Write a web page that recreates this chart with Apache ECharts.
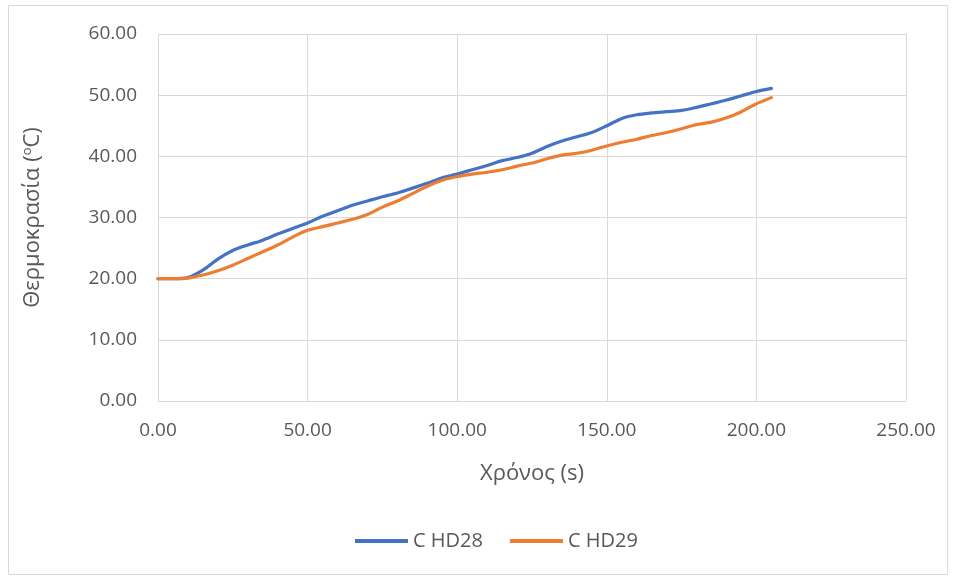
<!DOCTYPE html>
<html>
<head>
<meta charset="utf-8">
<script src="https://cdn.jsdelivr.net/npm/echarts@6/dist/echarts.min.js"></script>
<style>
  html, body { margin: 0; padding: 0; background: #fff; }
  #chart { width: 956px; height: 578px; }
</style>
</head>
<body>
<div id="chart"></div>
<script>
// Time samples (s)
const times = [0, 5, 10, 15, 20, 25, 30, 35, 40, 45, 50, 55, 60, 65, 70, 75, 80, 85, 90, 95, 100,
  105, 110, 115, 120, 125, 130, 135, 140, 145, 150, 155, 160, 165, 170, 175, 180, 185, 190, 195, 200, 205];

// Temperature readings (°C)
const hd28 = [20.0, 20.0, 20.2, 21.4, 23.2, 24.6, 25.5, 26.3, 27.3, 28.2, 29.1, 30.2, 31.1, 32.0, 32.7, 33.4,
  34.0, 34.8, 35.6, 36.5, 37.1, 37.8, 38.5, 39.3, 39.8, 40.5, 41.6, 42.5, 43.2, 43.9, 45.0, 46.2, 46.8,
  47.1, 47.3, 47.5, 48.0, 48.6, 49.2, 49.9, 50.6, 51.1];
const hd29 = [20.0, 20.0, 20.1, 20.6, 21.3, 22.2, 23.3, 24.4, 25.5, 26.8, 27.9, 28.5, 29.1, 29.7, 30.5, 31.7,
  32.7, 33.9, 35.1, 36.1, 36.7, 37.1, 37.4, 37.8, 38.4, 38.9, 39.6, 40.2, 40.5, 41.0, 41.7, 42.3, 42.8,
  43.4, 43.9, 44.5, 45.2, 45.6, 46.3, 47.3, 48.6, 49.6];

const seriesNames = ['C HD28', 'C HD29'];
const xAxisTitle = 'Χρόνος (s)';

const pairs = (ys) => times.map((t, i) => [t, ys[i]]);
const textColor = '#595959';
const gridColor = '#d9d9d9';
const fontFamily = '"Open Sans", "Noto Sans", sans-serif';

const chart = echarts.init(document.getElementById('chart'));
chart.setOption({
  animation: false,
  backgroundColor: '#ffffff',
  textStyle: { fontFamily: fontFamily },
  graphic: [{
    type: 'rect',
    shape: { x: 8.5, y: 5.5, width: 939, height: 569 },
    style: { fill: 'none', stroke: '#d9d9d9', lineWidth: 1 },
    silent: true
  }],
  grid: { left: 158, right: 50, top: 34, bottom: 177, containLabel: false },
  legend: {
    bottom: 22,
    left: 350,
    itemWidth: 53,
    itemHeight: 4,
    itemGap: 27,
    icon: 'rect',
    textStyle: { color: textColor, fontSize: 20, fontFamily: fontFamily },
    data: seriesNames
  },
  xAxis: {
    type: 'value',
    min: 0,
    max: 250,
    interval: 50,
    name: xAxisTitle,
    nameLocation: 'middle',
    nameGap: 62,
    nameTextStyle: { color: textColor, fontSize: 22, fontFamily: fontFamily },
    axisLine: { show: true, lineStyle: { color: gridColor } },
    axisTick: { show: false },
    axisLabel: {
      color: textColor, fontSize: 19, margin: 20,
      formatter: (v) => v.toFixed(2)
    },
    splitLine: { show: true, lineStyle: { color: gridColor, width: 1 } }
  },
  yAxis: {
    type: 'value',
    min: 0,
    max: 60,
    interval: 10,
    name: 'Θερμοκρασία ({sup|o}C)',
    nameLocation: 'middle',
    nameGap: 113,
    nameRotate: 90,
    nameTextStyle: {
      color: textColor, fontSize: 22, fontFamily: fontFamily,
      rich: {
        sup: { fontSize: 13, color: textColor, fontFamily: fontFamily, padding: [0, 0, 11, 0] }
      }
    },
    axisLine: { show: false },
    axisTick: { show: false },
    axisLabel: {
      color: textColor, fontSize: 19, margin: 21,
      formatter: (v) => v.toFixed(2)
    },
    splitLine: { show: true, lineStyle: { color: gridColor, width: 1 } }
  },
  series: [
    {
      name: seriesNames[0],
      type: 'line',
      data: pairs(hd28),
      smooth: 0.3,
      showSymbol: false,
      lineStyle: { color: '#4472C4', width: 3.2, cap: 'round' },
      itemStyle: { color: '#4472C4' }
    },
    {
      name: seriesNames[1],
      type: 'line',
      data: pairs(hd29),
      smooth: 0.3,
      showSymbol: false,
      lineStyle: { color: '#ED7D31', width: 3.2, cap: 'round' },
      itemStyle: { color: '#ED7D31' }
    }
  ]
});
</script>
</body>
</html>
